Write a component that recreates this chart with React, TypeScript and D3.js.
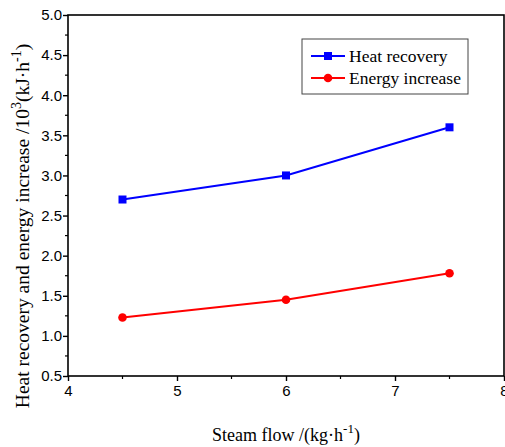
import * as d3 from 'd3'
import { useEffect, useRef } from 'react'

const steamFlow = [4.5, 6, 7.5]
const heatRecovery = [2.7, 3.0, 3.6]
const energyIncrease = [1.23, 1.45, 1.78]
const xTicks = [4, 5, 6, 7, 8]
const yTicks = [0.5, 1.0, 1.5, 2.0, 2.5, 3.0, 3.5, 4.0, 4.5, 5.0]
const seriesNames = ['Heat recovery', 'Energy increase']

export default function App() {
  const svgRef = useRef<SVGSVGElement>(null)

  useEffect(() => {
    if (!svgRef.current) return
    const svg = d3.select(svgRef.current)
    svg.selectAll('*').remove()

    const left = 68
    const right = 504
    const top = 15
    const bottom = 376

    const x = d3.scaleLinear().domain([4, 8]).range([left, right])
    const y = d3.scaleLinear().domain([0.5, 5]).range([bottom, top])

    const sans = 'Liberation Sans, Arial, sans-serif'
    const serif = 'Liberation Serif, Times New Roman, serif'

    // frame
    svg.append('rect')
      .attr('x', left).attr('y', top)
      .attr('width', right - left).attr('height', bottom - top)
      .attr('fill', 'none').attr('stroke', '#000').attr('stroke-width', 1.6)

    // y axis
    const yAxis = d3.axisLeft(y).tickValues(yTicks).tickSize(5).tickFormat(d3.format('.1f'))
    svg.append('g')
      .attr('transform', `translate(${left},0)`)
      .call(yAxis)
      .call((s) => s.select('.domain').remove())
      .call((s) => s.selectAll('line').attr('stroke-width', 1.4))
      .call((s) => s.selectAll('text').attr('font-family', sans).attr('font-size', 15).attr('fill', '#000').attr('x', -6))
    const yMinor = d3.range(0.75, 5, 0.5)
    svg.append('g').selectAll('line').data(yMinor).join('line')
      .attr('x1', left - 3).attr('x2', left)
      .attr('y1', (d) => y(d)).attr('y2', (d) => y(d))
      .attr('stroke', '#000').attr('stroke-width', 1.2)

    // x axis
    const xAxis = d3.axisBottom(x).tickValues(xTicks).tickSize(5).tickFormat(d3.format('d'))
    svg.append('g')
      .attr('transform', `translate(0,${bottom})`)
      .call(xAxis)
      .call((s) => s.select('.domain').remove())
      .call((s) => s.selectAll('line').attr('stroke-width', 1.4))
      .call((s) => s.selectAll('text').attr('font-family', sans).attr('font-size', 15).attr('fill', '#000').attr('y', 9))
    const xMinor = d3.range(4.5, 8, 1)
    svg.append('g').selectAll('line').data(xMinor).join('line')
      .attr('x1', (d) => x(d)).attr('x2', (d) => x(d))
      .attr('y1', bottom).attr('y2', bottom + 3)
      .attr('stroke', '#000').attr('stroke-width', 1.2)

    // series
    const series = [
      { name: seriesNames[0], values: heatRecovery, color: '#0000ff', shape: 'square' },
      { name: seriesNames[1], values: energyIncrease, color: '#ff0000', shape: 'circle' },
    ]
    const line = d3.line<number>().x((_, i) => x(steamFlow[i])).y((d) => y(d))
    series.forEach((s) => {
      svg.append('path').datum(s.values)
        .attr('fill', 'none').attr('stroke', s.color).attr('stroke-width', 2).attr('d', line)
      if (s.shape === 'square') {
        svg.append('g').selectAll('rect').data(s.values).join('rect')
          .attr('x', (_, i) => x(steamFlow[i]) - 4).attr('y', (d) => y(d) - 4)
          .attr('width', 8).attr('height', 8).attr('fill', s.color)
      } else {
        svg.append('g').selectAll('circle').data(s.values).join('circle')
          .attr('cx', (_, i) => x(steamFlow[i])).attr('cy', (d) => y(d))
          .attr('r', 4.3).attr('fill', s.color)
      }
    })

    // legend
    const lg = svg.append('g').attr('transform', 'translate(302,39)')
    lg.append('rect').attr('width', 166).attr('height', 55)
      .attr('fill', 'none').attr('stroke', '#444').attr('stroke-width', 1)
    series.forEach((s, i) => {
      const ly = 17 + i * 22
      lg.append('line').attr('x1', 9).attr('x2', 43).attr('y1', ly).attr('y2', ly)
        .attr('stroke', s.color).attr('stroke-width', 2)
      if (s.shape === 'square') {
        lg.append('rect').attr('x', 22).attr('y', ly - 4).attr('width', 8).attr('height', 8).attr('fill', s.color)
      } else {
        lg.append('circle').attr('cx', 26).attr('cy', ly).attr('r', 4.3).attr('fill', s.color)
      }
      lg.append('text').attr('x', 47).attr('y', ly + 6)
        .attr('font-family', serif).attr('font-size', 17.5).attr('fill', '#000').text(s.name)
    })

    // axis titles
    const xt = svg.append('text').attr('x', 286).attr('y', 441)
      .attr('text-anchor', 'middle').attr('font-family', serif).attr('font-size', 18).attr('fill', '#000')
    xt.append('tspan').text('Steam flow /(kg·h')
    xt.append('tspan').attr('dy', -8).attr('font-size', 13).text('-1')
    xt.append('tspan').attr('dy', 8).text(')')

    const yt = svg.append('text')
      .attr('transform', `translate(29,226) rotate(-90)`)
      .attr('text-anchor', 'middle').attr('font-family', serif).attr('font-size', 19.5).attr('fill', '#000')
    yt.append('tspan').text('Heat recovery and energy increase /10')
    yt.append('tspan').attr('dy', -8).attr('font-size', 14).text('3')
    yt.append('tspan').attr('dy', 8).text('(kJ·h')
    yt.append('tspan').attr('dy', -8).attr('font-size', 14).text('-1')
    yt.append('tspan').attr('dy', 8).text(')')
  }, [])

  return (
    <svg
      ref={svgRef}
      width={505}
      height={447}
      style={{ position: 'absolute', left: 0, top: 0, background: '#fff' }}
    />
  )
}
